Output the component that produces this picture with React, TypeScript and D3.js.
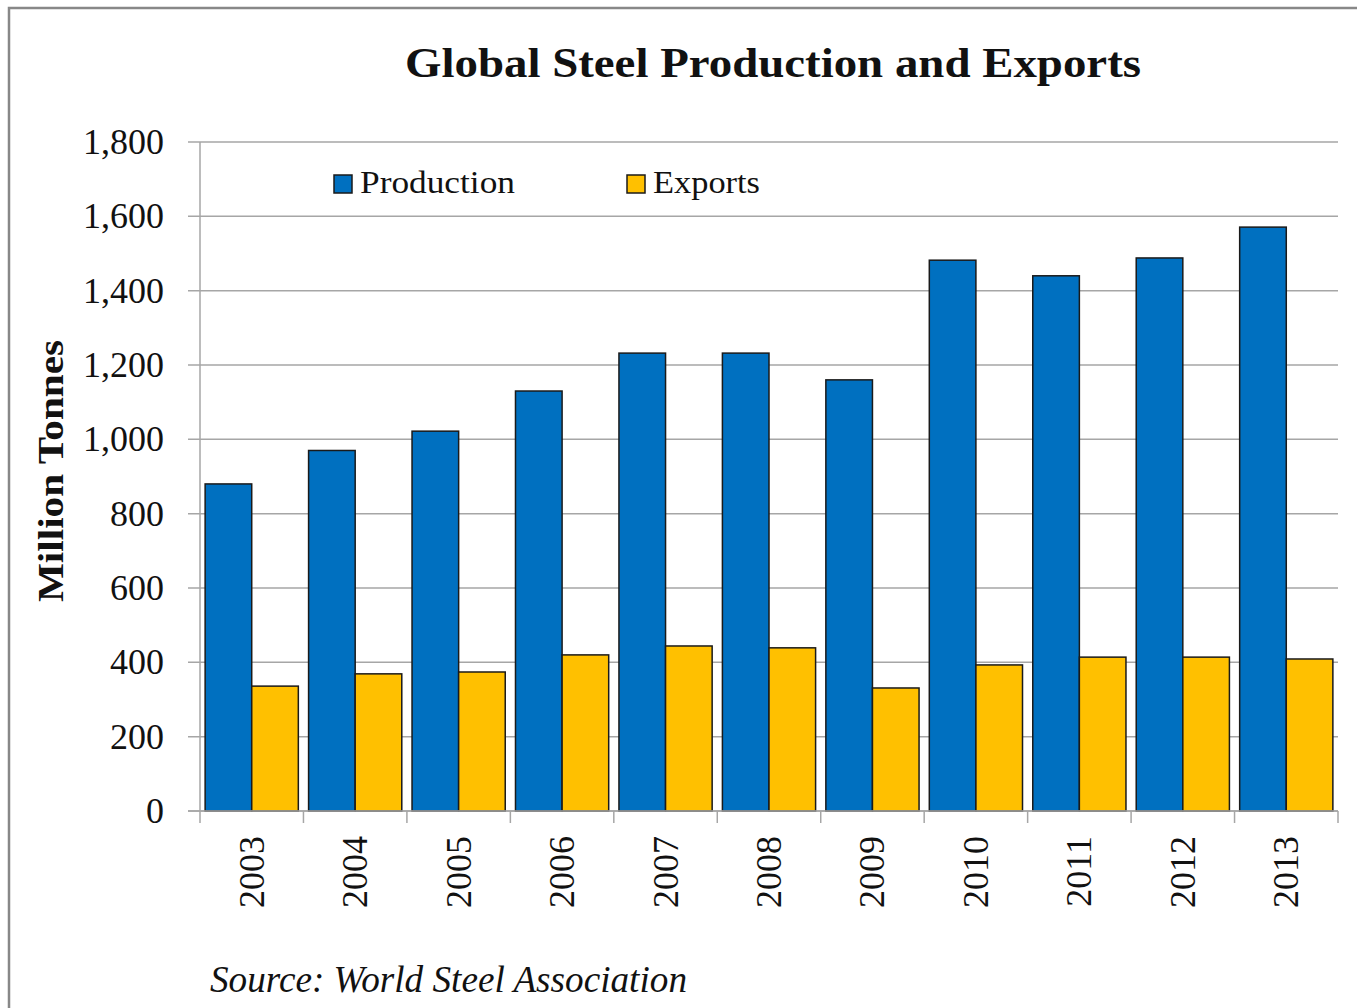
import React from "react";
import * as d3 from "d3";

const years = ["2003", "2004", "2005", "2006", "2007", "2008", "2009", "2010", "2011", "2012", "2013"];
const production = [880, 970, 1022, 1130, 1232, 1232, 1160, 1482, 1440, 1488, 1571];
const exportsData = [336, 369, 374, 420, 444, 439, 331, 393, 414, 414, 409];
const yTicks = [0, 200, 400, 600, 800, 1000, 1200, 1400, 1600, 1800];
const seriesNames = ["Production", "Exports"];
const seriesColors = ["#0070C0", "#FFC000"];

const W = 1357;
const H = 1008;
const plot = { left: 200, right: 1338, top: 142, bottom: 811 };
const FONT = "'Liberation Serif', 'DejaVu Serif', serif";

export default function App() {
  const x = d3.scaleBand<string>().domain(years).range([plot.left, plot.right]).paddingInner(0).paddingOuter(0);
  const inner = d3.scaleBand<string>().domain(seriesNames).range([0, x.bandwidth()]).paddingInner(0).paddingOuter(0.11);
  const y = d3.scaleLinear().domain([0, 1800]).range([plot.bottom, plot.top]);
  const fmt = d3.format(",");
  const series = [production, exportsData];
  const legendWidths = [155, 107];

  return (
    <div style={{ position: "absolute", left: 0, top: 0 }}>
      <svg width={W} height={H} style={{ display: "block", background: "#fff" }}>
        <rect x={9} y={8} width={W + 10} height={H + 10} fill="none" stroke="#888" strokeWidth={2.5} />
        <text x={405} y={77} textLength={736} lengthAdjust="spacingAndGlyphs" fontFamily={FONT} fontWeight="bold" fontSize={43} fill="#111">
          Global Steel Production and Exports
        </text>
        {yTicks.map((t) => (
          <line key={"g" + t} x1={plot.left - 12} x2={plot.right} y1={y(t)} y2={y(t)} stroke="#a6a6a6" strokeWidth={1.5} />
        ))}
        {yTicks.map((t) => (
          <text key={"yt" + t} x={164} y={y(t) + 12} textAnchor="end" fontFamily={FONT} fontSize={36} fill="#111">
            {fmt(t)}
          </text>
        ))}
        <line x1={plot.left} x2={plot.left} y1={plot.top} y2={plot.bottom} stroke="#a6a6a6" strokeWidth={1.5} />
        {years.map((yr, i) => (
          <g key={yr}>
            {series.map((s, j) => (
              <rect
                key={j}
                x={(x(yr) as number) + (inner(seriesNames[j]) as number)}
                y={y(s[i])}
                width={inner.bandwidth()}
                height={plot.bottom - y(s[i])}
                fill={seriesColors[j]}
                stroke="#1a1a1a"
                strokeWidth={1.5}
              />
            ))}
          </g>
        ))}
        <line x1={plot.left - 12} x2={plot.right} y1={plot.bottom} y2={plot.bottom} stroke="#a6a6a6" strokeWidth={1.5} />
        {years.map((yr) => (
          <line key={"xt" + yr} x1={x(yr) as number} x2={x(yr) as number} y1={plot.bottom} y2={plot.bottom + 12} stroke="#a6a6a6" strokeWidth={1.5} />
        ))}
        <line x1={plot.right} x2={plot.right} y1={plot.bottom} y2={plot.bottom + 12} stroke="#a6a6a6" strokeWidth={1.5} />
        {years.map((yr) => {
          const cx = (x(yr) as number) + x.bandwidth() / 2;
          return (
            <text
              key={"xl" + yr}
              transform={`translate(${cx + 12},836) rotate(-90)`}
              textAnchor="end"
              fontFamily={FONT}
              fontSize={36}
              fill="#111"
            >
              {yr}
            </text>
          );
        })}
        <text
          transform="translate(63,471) rotate(-90)"
          textAnchor="middle"
          textLength={262}
          lengthAdjust="spacingAndGlyphs"
          fontFamily={FONT}
          fontWeight="bold"
          fontSize={35}
          fill="#111"
        >
          Million Tonnes
        </text>
        {seriesNames.map((n, j) => {
          const lx = [334, 627][j];
          return (
            <g key={n}>
              <rect x={lx} y={175} width={18} height={18} fill={seriesColors[j]} stroke="#1a1a1a" strokeWidth={1.5} />
              <text x={lx + 26} y={193} textLength={legendWidths[j]} lengthAdjust="spacingAndGlyphs" fontFamily={FONT} fontSize={31} fill="#111">
                {n}
              </text>
            </g>
          );
        })}
        <text x={210} y={992} textLength={477} lengthAdjust="spacingAndGlyphs" fontFamily={FONT} fontStyle="italic" fontSize={37} fill="#111">
          Source: World Steel Association
        </text>
      </svg>
    </div>
  );
}
